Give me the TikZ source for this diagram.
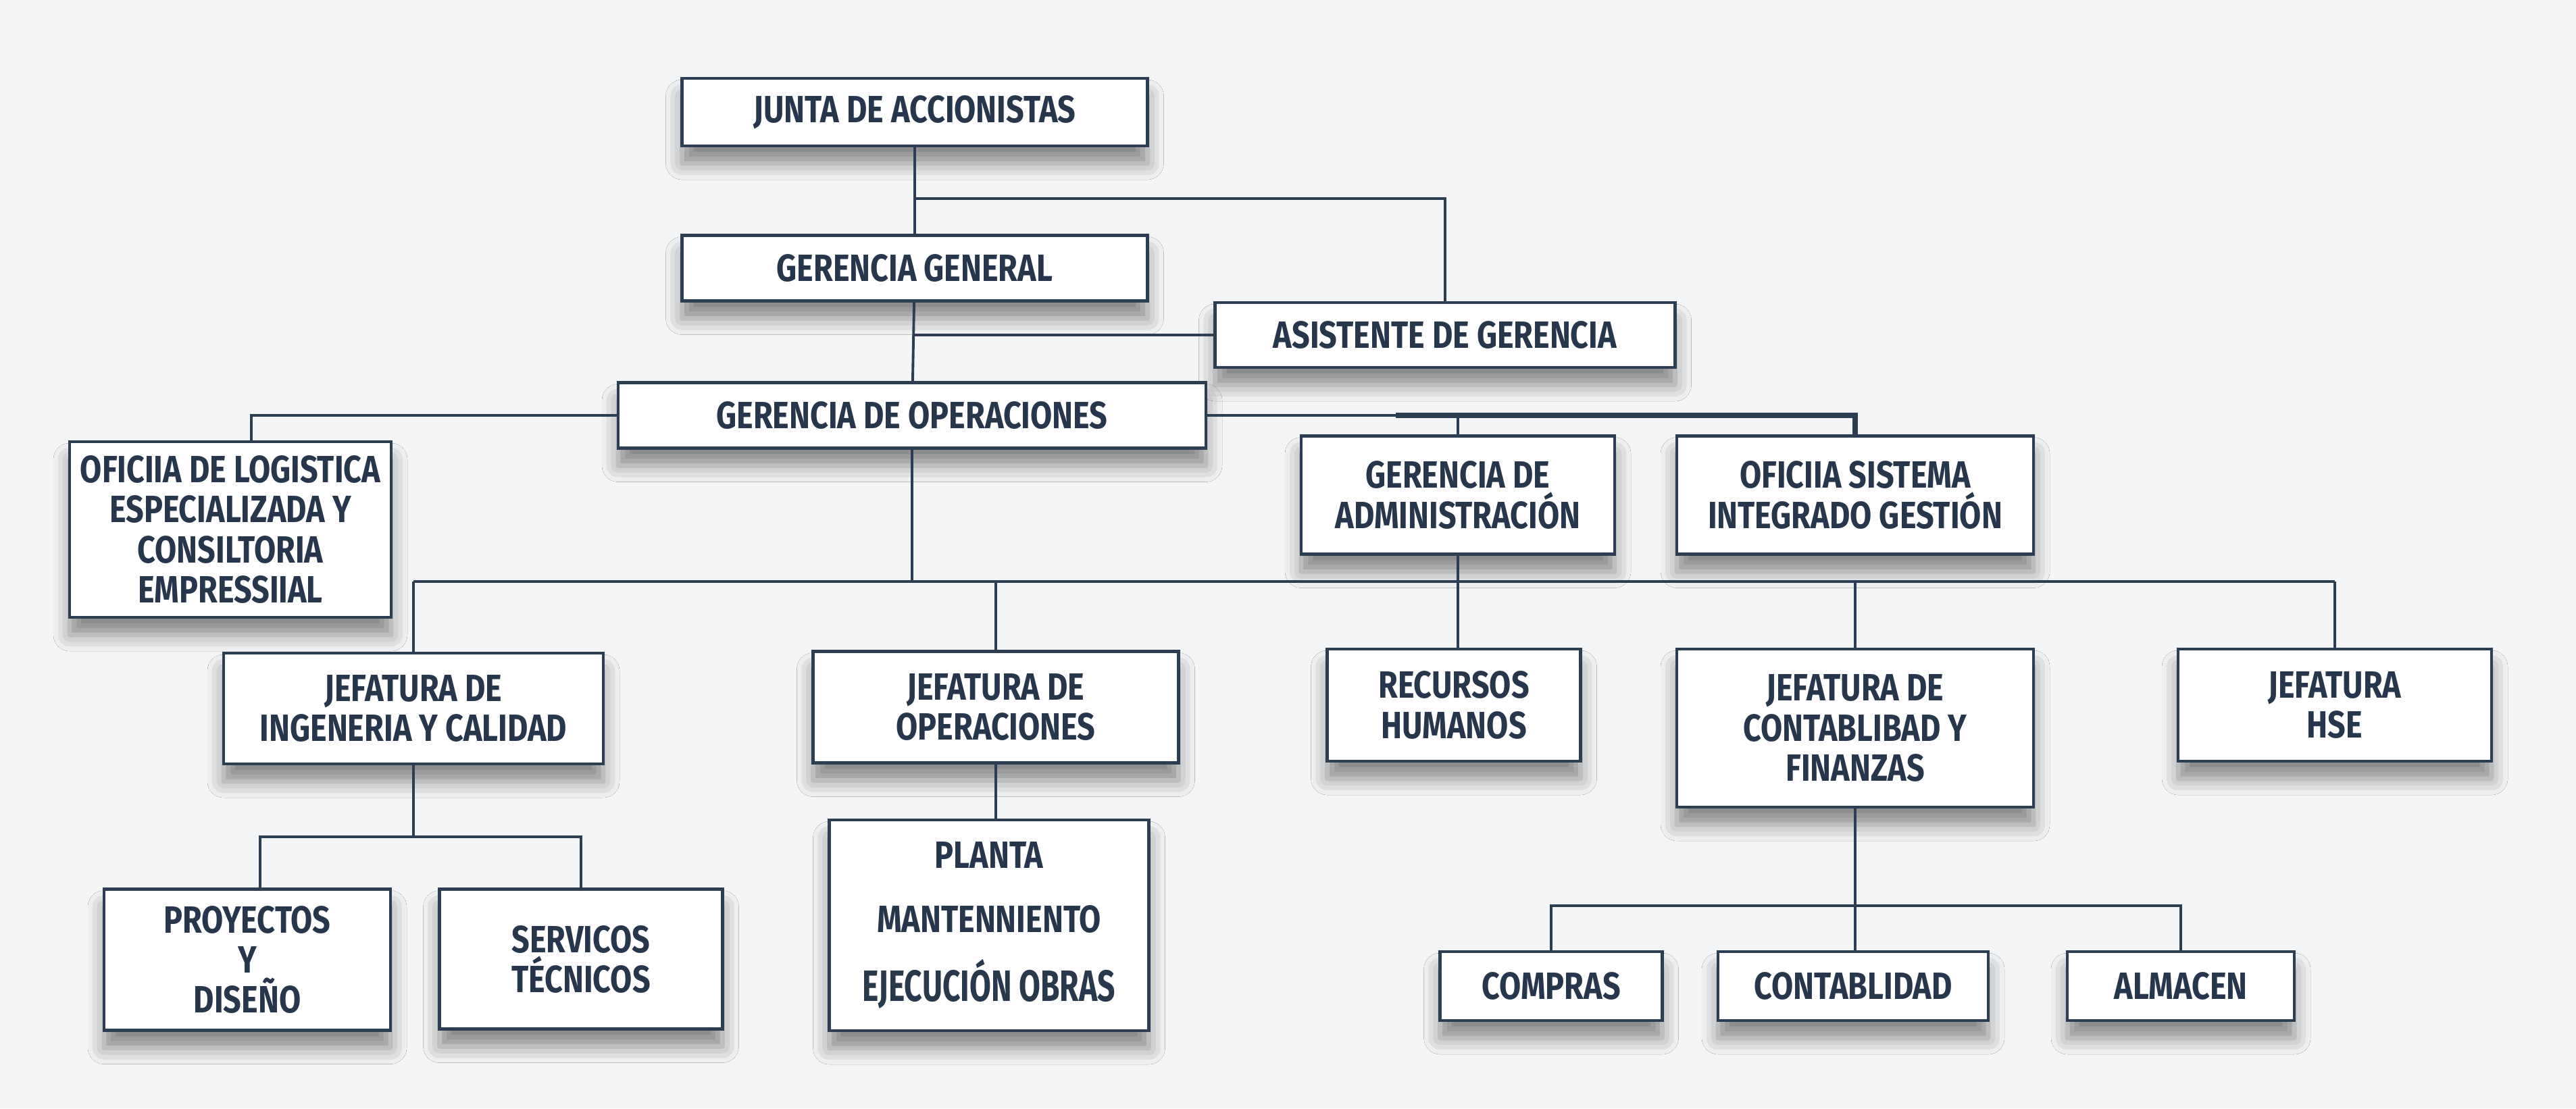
\documentclass[tikz,border=0pt]{standalone}
\usepackage{fontspec}
\setmainfont{Fira Sans}[FakeStretch=0.83]
\newfontfamily\obrasfont{Fira Sans}[FakeStretch=0.71]
\usetikzlibrary{shadows.blur}
\definecolor{orgline}{RGB}{44,62,84}
\definecolor{orgtext}{RGB}{38,55,77}
\definecolor{paper}{RGB}{244,245,247}
\tikzset{unit/.style 2 args={draw=orgline,line width=1.3pt,fill=white,text=orgtext,align=center,
 inner sep=0pt,minimum width=#1cm,minimum height=#2cm,font=\bfseries\fontsize{16}{16.8}\selectfont,
 blur shadow={shadow xshift=0pt,shadow yshift=-0.26cm,shadow blur radius=0.24cm,shadow opacity=45}},
 link/.style={orgline,line width=1.1pt}}

\begin{document}
\begin{tikzpicture}
\fill[paper] (0,0) rectangle (38.13,-16.41);
\useasboundingbox (0,0) rectangle (38.13,-16.41);
\node[unit={6.89}{1.00}] (junta) at (13.54,-1.66) {JUNTA DE ACCIONISTAS};
\node[unit={6.89}{0.97}] (gg) at (13.54,-3.97) {GERENCIA GENERAL};
\node[unit={6.81}{0.96}] (asist) at (21.39,-4.96) {ASISTENTE DE GERENCIA};
\node[unit={8.70}{0.97}] (go) at (13.50,-6.15) {GERENCIA DE OPERACIONES};
\node[unit={4.76}{2.60}] (oflog) at (3.41,-7.84) {OFICIIA DE LOGISTICA\\ESPECIALIZADA Y\\CONSILTORIA\\EMPRESSIIAL};
\node[unit={4.64}{1.75}] (gadm) at (21.58,-7.33) {GERENCIA DE\\ADMINISTRACIÓN};
\node[unit={5.28}{1.75}] (ofsis) at (27.46,-7.33) {OFICIIA SISTEMA\\INTEGRADO GESTIÓN};
\node[unit={5.62}{1.64}] (jing) at (6.12,-10.49) {JEFATURA DE\\INGENERIA Y CALIDAD};
\node[unit={5.41}{1.65}] (jops) at (14.74,-10.47) {JEFATURA DE\\OPERACIONES};
\node[unit={3.75}{1.66}] (rrhh) at (21.52,-10.44) {RECURSOS\\HUMANOS};
\node[unit={5.28}{2.34}] (jcont) at (27.46,-10.78) {JEFATURA DE\\CONTABLIBAD Y\\FINANZAS};
\node[unit={4.64}{1.66}] (hse) at (34.56,-10.44) {JEFATURA\\HSE};
\node[unit={4.24}{2.09}] (proy) at (3.66,-14.21) {PROYECTOS\\Y\\DISEÑO};
\node[unit={4.19}{2.07}] (serv) at (8.60,-14.20) {SERVICOS\\TÉCNICOS};
\node[unit={4.73}{3.12}] (planta) at (14.64,-13.70) {PLANTA\\[0.36cm]MANTENNIENTO\\[0.36cm]{\obrasfont\fontsize{18.5}{18.5}\selectfont\color{orgline!92!black}EJECUCIÓN OBRAS}};
\node[unit={3.29}{1.02}] (compras) at (22.96,-14.60) {COMPRAS};
\node[unit={4.00}{1.02}] (cont) at (27.43,-14.60) {CONTABLIDAD};
\node[unit={3.36}{1.02}] (almacen) at (32.28,-14.60) {ALMACEN};
\path (junta.south) ++(0,-0.76) coordinate (b1);
\path (go.east) ++(2.79,0) coordinate (split);
\path (go.south) ++(0,-1.955) coordinate (bus);
\path (jing.south) ++(0,-1.06) coordinate (sb1);
\path (jcont.south) ++(0,-1.44) coordinate (sb2);
\draw[link] (junta) -- (gg);
\draw[link] (b1) -| (asist.north);
\draw[link] (gg) -- (go);
\draw[link] (gg.south |- asist.west) -- (asist.west);
\draw[link] (go.west) -| ([xshift=0.31cm]oflog.north);
\draw[link] (go.east) -| (gadm.north);
\draw[link,line width=2.2pt] (split) -| (ofsis.north);
\draw[link] (go) -- (bus);
\draw[link] (jing.north |- bus) -- (hse.north |- bus);
\foreach \n in {jing,jops,jcont,hse} \draw[link] (\n.north |- bus) -- (\n.north);
\draw[link] (gadm.south) -- (gadm.south |- rrhh.north);
\draw[link] (jing) -- (sb1);
\draw[link] ([xshift=0.19cm]proy.north) |- (sb1) -| (serv.north);
\draw[link] (jops.south) -- (jops.south |- planta.north);
\draw[link] (jcont.south) -- (jcont.south |- cont.north);
\draw[link] (compras.north) |- (sb2) -| (almacen.north);
\end{tikzpicture}
\end{document}
